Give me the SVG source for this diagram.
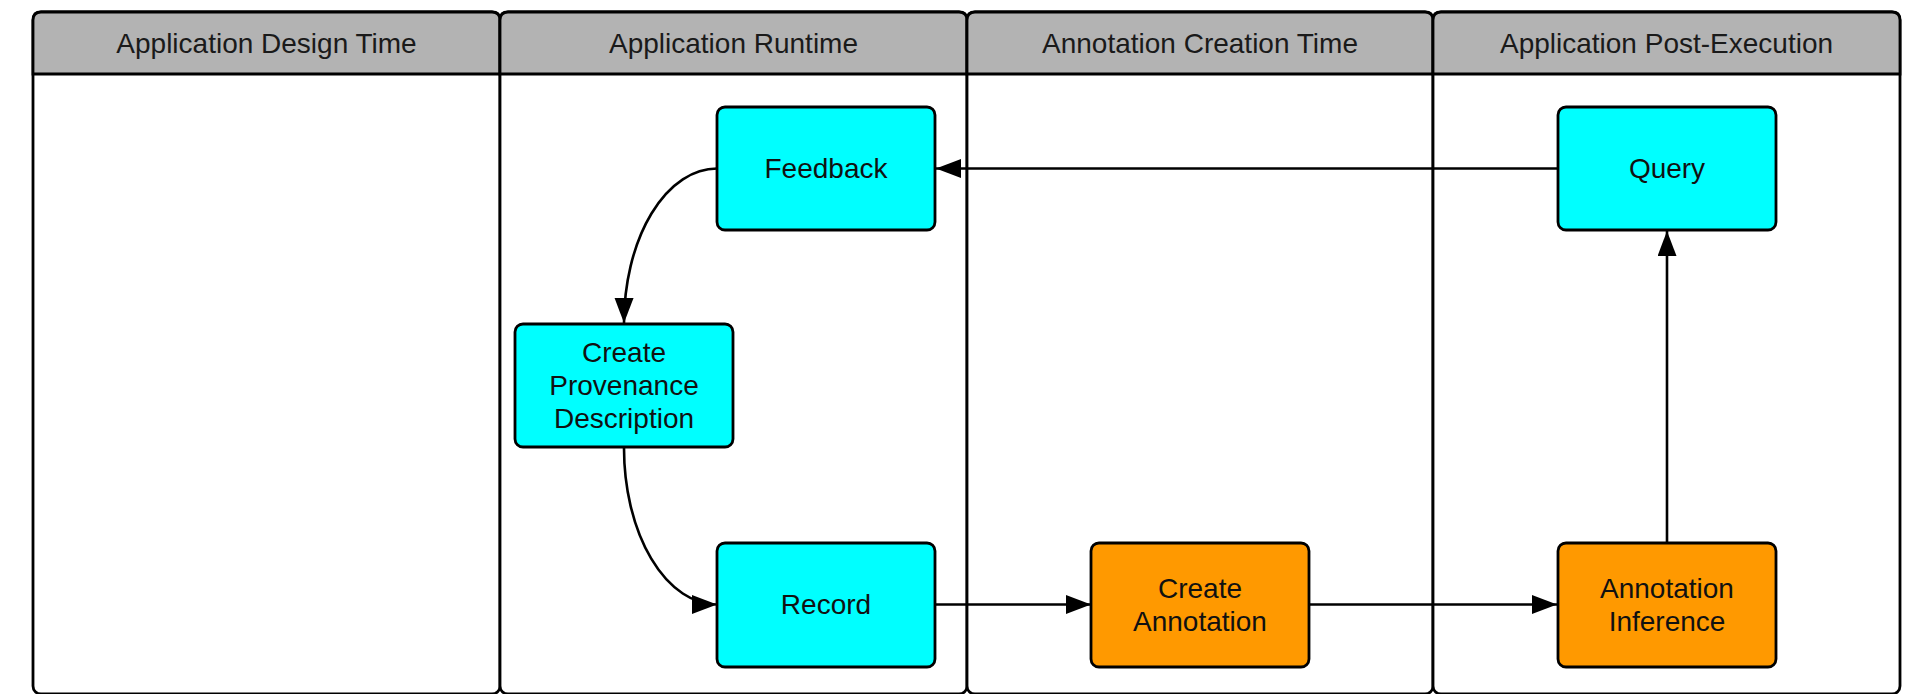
<svg xmlns="http://www.w3.org/2000/svg" width="1926" height="694" viewBox="0 0 1926 694">
  <style>
    .lane { fill: #ffffff; stroke: #000000; stroke-width: 2.8; }
    .hdr { fill: #b3b3b3; stroke: #000000; stroke-width: 2.8; }
    .htext { font-family: "Liberation Sans", Arial, sans-serif; font-size: 28px; fill: #1a1a1a; text-anchor: middle; }
    .node { stroke: #000000; stroke-width: 2.8; }
    .cyan { fill: #00ffff; }
    .orange { fill: #ff9900; }
    .ntext { font-family: "Liberation Sans", Arial, sans-serif; font-size: 28px; fill: #111111; text-anchor: middle; }
    .edge { fill: none; stroke: #000000; stroke-width: 2.6; }
  </style>
  <defs>
    <marker id="arrow" markerUnits="userSpaceOnUse" markerWidth="26" markerHeight="20" refX="25" refY="9.5" orient="auto">
      <path d="M0,0 L25,9.5 L0,19 z" fill="#000000"/>
    </marker>
  </defs>
  <rect width="1926" height="694" fill="#ffffff"/>

  <g id="lane-design">
    <rect class="lane" x="33" y="12" width="467" height="682" rx="8"/>
    <path class="hdr" d="M33,74 L33,20 Q33,12 41,12 L492,12 Q500,12 500,20 L500,74 Z"/>
    <text class="htext" x="266.5" y="53">Application Design Time</text>
  </g>
  <g id="lane-runtime">
    <rect class="lane" x="500" y="12" width="467" height="682" rx="8"/>
    <path class="hdr" d="M500,74 L500,20 Q500,12 508,12 L959,12 Q967,12 967,20 L967,74 Z"/>
    <text class="htext" x="733.5" y="53">Application Runtime</text>
  </g>
  <g id="lane-annotation">
    <rect class="lane" x="967" y="12" width="466" height="682" rx="8"/>
    <path class="hdr" d="M967,74 L967,20 Q967,12 975,12 L1425,12 Q1433,12 1433,20 L1433,74 Z"/>
    <text class="htext" x="1200" y="53">Annotation Creation Time</text>
  </g>
  <g id="lane-post">
    <rect class="lane" x="1433" y="12" width="467" height="682" rx="8"/>
    <path class="hdr" d="M1433,74 L1433,20 Q1433,12 1441,12 L1892,12 Q1900,12 1900,20 L1900,74 Z"/>
    <text class="htext" x="1666.5" y="53">Application Post-Execution</text>
  </g>

  <g id="connectors">
    <path class="edge" d="M1557,168.5 L936,168.5" marker-end="url(#arrow)"/>
    <path class="edge" d="M717,168.5 A93,155 0 0 0 624,323" marker-end="url(#arrow)"/>
    <path class="edge" d="M624,448 A93,156.5 0 0 0 717,604.5" marker-end="url(#arrow)"/>
    <path class="edge" d="M935,604.5 L1091,604.5" marker-end="url(#arrow)"/>
    <path class="edge" d="M1309,604.5 L1557,604.5" marker-end="url(#arrow)"/>
    <path class="edge" d="M1667,543 L1667,231" marker-end="url(#arrow)"/>
  </g>

  <g id="node-feedback">
    <rect class="node cyan" x="717" y="107" width="218" height="123" rx="8"/>
    <text class="ntext" x="826" y="178">Feedback</text>
  </g>
  <g id="node-query">
    <rect class="node cyan" x="1558" y="107" width="218" height="123" rx="8"/>
    <text class="ntext" x="1667" y="178">Query</text>
  </g>
  <g id="node-create-provenance">
    <rect class="node cyan" x="515" y="324" width="218" height="123" rx="8"/>
    <text class="ntext" x="624" y="362">Create</text>
    <text class="ntext" x="624" y="395">Provenance</text>
    <text class="ntext" x="624" y="428">Description</text>
  </g>
  <g id="node-record">
    <rect class="node cyan" x="717" y="543" width="218" height="124" rx="8"/>
    <text class="ntext" x="826" y="614">Record</text>
  </g>
  <g id="node-create-annotation">
    <rect class="node orange" x="1091" y="543" width="218" height="124" rx="8"/>
    <text class="ntext" x="1200" y="598">Create</text>
    <text class="ntext" x="1200" y="631">Annotation</text>
  </g>
  <g id="node-annotation-inference">
    <rect class="node orange" x="1558" y="543" width="218" height="124" rx="8"/>
    <text class="ntext" x="1667" y="598">Annotation</text>
    <text class="ntext" x="1667" y="631">Inference</text>
  </g>
</svg>
